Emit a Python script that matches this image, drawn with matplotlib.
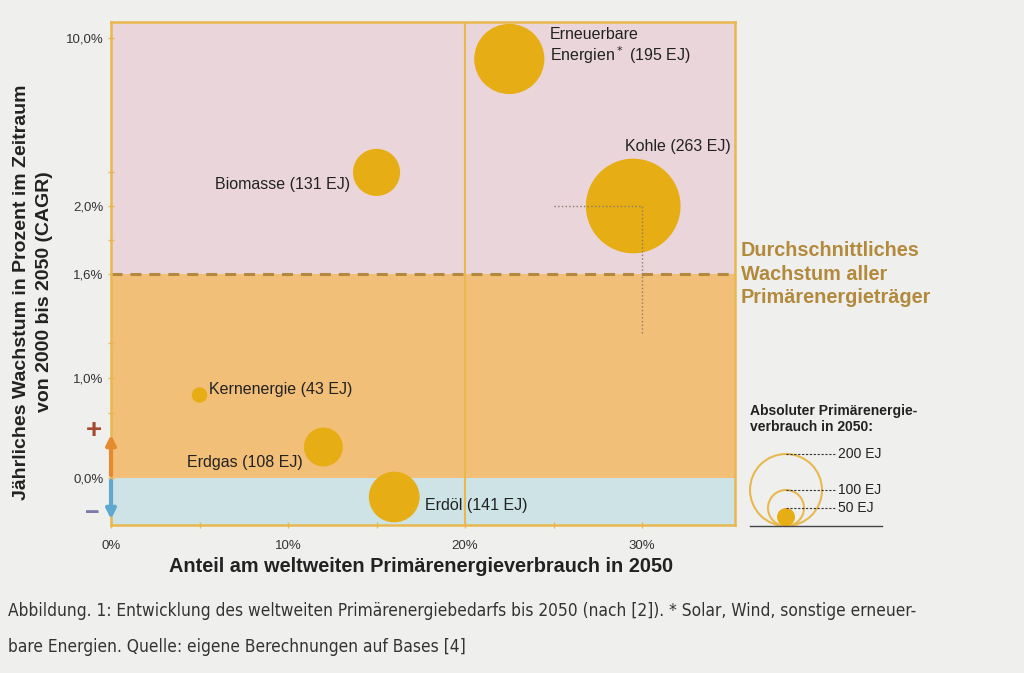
import numpy as np
import matplotlib
matplotlib.use("Agg")
import matplotlib.pyplot as plt
from matplotlib.patches import Circle

plt.rcParams['font.family'] = ['Liberation Sans', 'DejaVu Sans']

# Daten
traeger = ['Erneuerbare\nEnergien$^*$ (195 EJ)', 'Kohle (263 EJ)', 'Biomasse (131 EJ)',
           'Kernenergie (43 EJ)', 'Erdgas (108 EJ)', 'Erdöl (141 EJ)']
anteil = [22.5, 29.5, 15.0, 5.0, 12.0, 16.0]          # % am Verbrauch 2050
wachstum = [9.0, 2.0, 3.6, 0.83, 0.31, -0.19]         # CAGR in %
ej_2050 = [195, 263, 131, 43, 108, 141]
durchschnitt = 1.6
legende_ej = [200, 100, 50]

y_ticks = [0, 1, 1.6, 2, 10]
y_ticklabels = ['0,0%', '1,0%', '1,6%', '2,0%', '10,0%']
y_minor = [0.65, 1.2, 1.8, 3.6]
x_ticks = [0, 10, 20, 30]
x_ticklabels = ['0%', '10%', '20%', '30%']
x_minor = [5, 15, 25]

# gebrochene (stückweise lineare) y-Achse wie im Original
y_werte = [-0.47, 0, 1, 1.6, 2, 10, 10.76]
y_pos = [0, 47, 147, 251, 319, 487, 503]

gold = '#e8b84f'
bubble = '#e6ad14'
braun = '#b58840'

fig = plt.figure(figsize=(10.24, 6.73), dpi=100)
fig.patch.set_facecolor('#eff0ee')
ax = fig.add_axes([111/1024, 1-525/673, 624/1024, 503/673])
ax.set_yscale('function', functions=(lambda v: np.interp(v, y_werte, y_pos),
                                     lambda p: np.interp(p, y_pos, y_werte)))
ax.set_xlim(0, 35.25)
ax.set_ylim(y_werte[0], y_werte[-1])

ax.axhspan(durchschnitt, y_werte[-1], color='#ead6da', lw=0, zorder=0)
ax.axhspan(0, durchschnitt, color='#f2bf78', lw=0, zorder=0)
ax.axhspan(y_werte[0], 0, color='#cde3e5', lw=0, zorder=0)
ax.axvline(20, color=gold, lw=1.5, zorder=1)
ax.axhline(durchschnitt, color=braun, lw=2.2, ls=(0, (3.6, 2.6)), zorder=2)
# gepunktete Hilfslinien bei Kohle
ax.plot([25, 30, 30], [2.0, 2.0, 1.26], color='#8a7a6a', lw=1, ls=':', zorder=4)

# Blasen: Radius proportional zum Verbrauch (0.18 px pro EJ)
groesse = [(0.36 * e * 0.72) ** 2 for e in ej_2050]
ax.scatter(anteil, wachstum, s=groesse, color=bubble, lw=0, zorder=3)

offsets = [(29, 9), (70, 43), (-19, -9), (7, 4), (-15, -11), (22, -6)]
ausr = ['left', 'right', 'right', 'left', 'right', 'left']
for x, y, t, off, ha in zip(anteil, wachstum, traeger, offsets, ausr):
    ax.annotate(t, (x, y), xytext=off, textcoords='offset points', ha=ha, va='center',
                fontsize=11.5, color='#222222', zorder=5, linespacing=1.15)

for s in ax.spines.values():
    s.set_color(gold)
    s.set_linewidth(1.8)
ax.set_xticks(x_ticks)
ax.set_xticklabels(x_ticklabels)
ax.set_xticks(x_minor, minor=True)
ax.set_yticks(y_ticks)
ax.set_yticklabels(y_ticklabels)
ax.set_yticks(y_minor, minor=True)
ax.tick_params(which='both', direction='inout', length=5, color=gold, width=1,
               labelsize=9.5, labelcolor='#333333')
ax.tick_params(axis='x', pad=8)
ax.tick_params(axis='y', pad=3)

# Plus/Minus-Pfeile an der y-Achse
ax.annotate('', xy=(0, 0.46), xytext=(0, 0), annotation_clip=False,
            arrowprops=dict(arrowstyle='-|>', color='#e68a2e', lw=3, mutation_scale=14))
ax.annotate('', xy=(0, -0.44), xytext=(0, 0), annotation_clip=False,
            arrowprops=dict(arrowstyle='-|>', color='#5fa8d0', lw=3, mutation_scale=14))
fig.text(94/1024, 1-431/673, '+', fontsize=20, fontweight='bold', color='#a4492e',
         ha='center', va='center')
fig.text(92/1024, 1-513/673, '−', fontsize=18, fontweight='bold', color='#7b7aa8',
         ha='center', va='center')

fig.text(33/1024, 1-292/673, 'Jährliches Wachstum in Prozent im Zeitraum\nvon 2000 bis 2050 (CAGR)',
         rotation=90, ha='center', va='center', fontsize=14, fontweight='bold',
         color='#222222', linespacing=1.4)
fig.text(421/1024, 1-567/673, 'Anteil am weltweiten Primärenergieverbrauch in 2050',
         ha='center', va='center', fontsize=14.3, fontweight='bold', color='#222222')

fig.text(741/1024, 1-274/673, 'Durchschnittliches\nWachstum aller\nPrimärenergieträger',
         ha='left', va='center', fontsize=14.3, fontweight='bold', color='#b38a3c',
         linespacing=1.3)

# Legende der Blasengrößen (Einheit: Pixel)
fig.text(750/1024, 1-419/673, 'Absoluter Primärenergie-\nverbrauch in 2050:',
         ha='left', va='center', fontsize=10, fontweight='bold', color='#222222',
         linespacing=1.2)
lax = fig.add_axes([740/1024, 1-540/673, 160/1024, 100/673])
lax.set_xlim(740, 900)
lax.set_ylim(0, 100)
lax.axis('off')
basis = 14
cx = 786
for e in legende_ej:
    r = 0.18 * e
    if e == legende_ej[-1]:
        lax.add_patch(Circle((cx, basis + r), r, color=bubble, lw=0))
    else:
        lax.add_patch(Circle((cx, basis + r), r, fill=False, edgecolor=gold, lw=1.5))
    lax.plot([cx, 835], [basis + 2 * r, basis + 2 * r], color='#333333', lw=0.8, ls=(0, (2, 1.5)))
    lax.text(838, basis + 2 * r, f'{e} EJ', ha='left', va='center', fontsize=10, color='#222222')
lax.plot([750, 882], [basis, basis], color='#444444', lw=1)

caption_font = dict(ha='left', va='center', fontsize=12.4, color='#333333',
                    family=['DejaVu Sans'], fontstretch='condensed')
fig.text(8/1024, 1-611/673,
         'Abbildung. 1: Entwicklung des weltweiten Primärenergiebedarfs bis 2050 (nach [2]). * Solar, Wind, sonstige erneuer-',
         **caption_font)
fig.text(8/1024, 1-647/673, 'bare Energien. Quelle: eigene Berechnungen auf Bases [4]',
         **caption_font)

fig.savefig('out.png', dpi=100, facecolor=fig.get_facecolor())
